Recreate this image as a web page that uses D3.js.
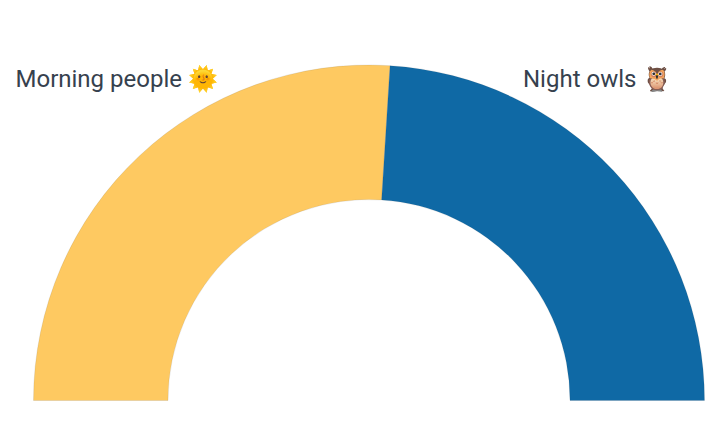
<!DOCTYPE html>
<html><head><meta charset="utf-8">
<script src="https://cdn.jsdelivr.net/npm/d3@7"></script>
<style>html,body{margin:0;padding:0;background:#fff}svg{display:block}</style>
</head><body><svg id="c" width="725" height="444"></svg>
<script>
const categories = ["Morning people", "Night owls"];
const values = [52, 48];
const colors = ["#fec961", "#0f69a5"];
const labels = ["Morning people 🌞", "Night owls 🦉"];

const svg = d3.select("#c");
const g = svg.append("g").attr("transform", "translate(369,400.5)");
const pie = d3.pie().sort(null).startAngle(-Math.PI/2).endAngle(Math.PI/2);
const arc = d3.arc().innerRadius(201).outerRadius(335.5);
g.selectAll("path").data(pie(values)).join("path")
  .attr("d", arc).attr("fill", (d,i)=>colors[i])
  .attr("stroke", "#333").attr("stroke-opacity", 0.3).attr("stroke-width", 0.35);
svg.selectAll("text").data(labels).join("text")
  .attr("x", (d,i)=>[15.5,523][i]).attr("y", 87)
  .attr("font-family", "Roboto, sans-serif").attr("font-size", 24)
  .attr("fill", "#36414e").text(d=>d);
</script></body></html>
